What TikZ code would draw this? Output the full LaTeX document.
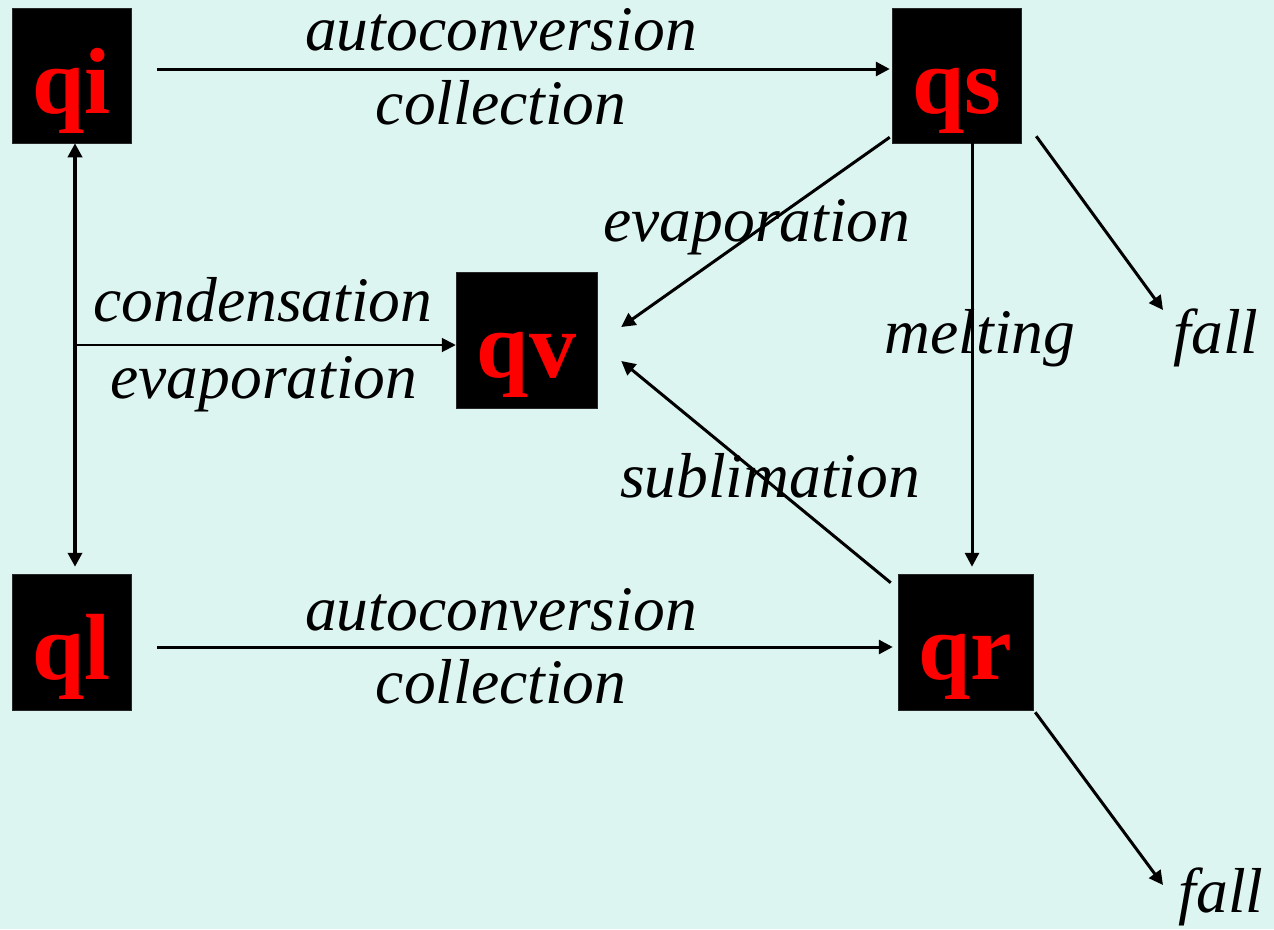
\documentclass[tikz,border=0pt]{standalone}
\usepackage{fontspec}
\setmainfont{Liberation Serif}
\usetikzlibrary{arrows.meta,calc}
\definecolor{bgc}{RGB}{221,245,241}
\definecolor{qred}{RGB}{255,0,0}
\begin{document}
\begin{tikzpicture}[x=1pt,y=-1pt,
  qbox/.style={fill=black, draw=black!85, line width=0.5pt, inner sep=0pt, text=qred,
    font=\fontsize{94}{100}\selectfont\bfseries, text height=75pt, text depth=0pt},
  lbl/.style={anchor=base, inner sep=0pt, font=\fontsize{63.5}{70}\selectfont\itshape},
  tip/.tip={Triangle[length=14pt,width=14pt]},
  arr/.style={line width=3pt, -tip}]
\fill[bgc] (0,0) rectangle (1274,929);
\useasboundingbox (0,0) rectangle (1274,929);

% labels
\node[lbl] (ac1) at (501,50) {autoconversion};
\node[lbl] (co1) at (501,124) {collection};
\node[lbl] (ev1) at (757,241) {evaporation};
\node[lbl] (cd) at (263,321) {condensation};
\node[lbl] (ev2) at (264,398) {evaporation};
\node[lbl] (me) at (980,353) {melting};
\node[lbl] (fa1) at (1216,353) {fall};
\node[lbl] (su) at (770,497) {sublimation};
\node[lbl] (ac2) at (501,630) {autoconversion};
\node[lbl] (co2) at (501,703) {collection};
\node[lbl] (fa2) at (1221,912) {fall};

% boxes
\node[qbox, minimum width=119pt, minimum height=135pt] (qi) at (71.5,75.5) {qi};
\node[qbox, minimum width=129pt, minimum height=135pt] (qs) at (956.5,75.5) {qs};
\node[qbox, minimum width=141pt, minimum height=136pt] (qv) at (526.5,340) {qv};
\node[qbox, minimum width=119pt, minimum height=136pt] (ql) at (71.5,642) {ql};
\node[qbox, minimum width=135pt, minimum height=136pt] (qr) at (965.5,642) {qr};

\coordinate (j) at (75,345);
\coordinate (f1) at (1163,310);
\coordinate (f2) at (1163,885);

% connectors
\draw[arr] ([xshift=26pt,yshift=6.5pt]qi.east) -- ([xshift=-2pt,yshift=6.5pt]qs.west);
\draw[line width=3.5pt, tip-tip] ([xshift=3.5pt]qi.south) -- ([xshift=3.5pt,yshift=7pt]ql.north);
\draw[arr, line width=2pt] (j) -- ([yshift=-5pt]qv.west);
\draw[arr] ([xshift=26pt,yshift=-5pt]ql.east) -- ([xshift=-5pt,yshift=-5pt]qr.west);
\draw[arr] ([xshift=-2pt,yshift=6pt]qs.south west) -- ([xshift=24pt,yshift=13pt]qv.east);
\draw[arr] ([xshift=-7pt,yshift=-9pt]qr.north west) -- ([xshift=24pt,yshift=-21pt]qv.east);
\draw[arr] ([xshift=15.5pt]qs.south) -- ([xshift=6.5pt,yshift=7pt]qr.north);
\draw[arr] ([xshift=15pt,yshift=7pt]qs.south east) -- (f1);
\draw[arr] ([xshift=2pt,yshift=-2pt]qr.south east) -- (f2);
\end{tikzpicture}
\end{document}
